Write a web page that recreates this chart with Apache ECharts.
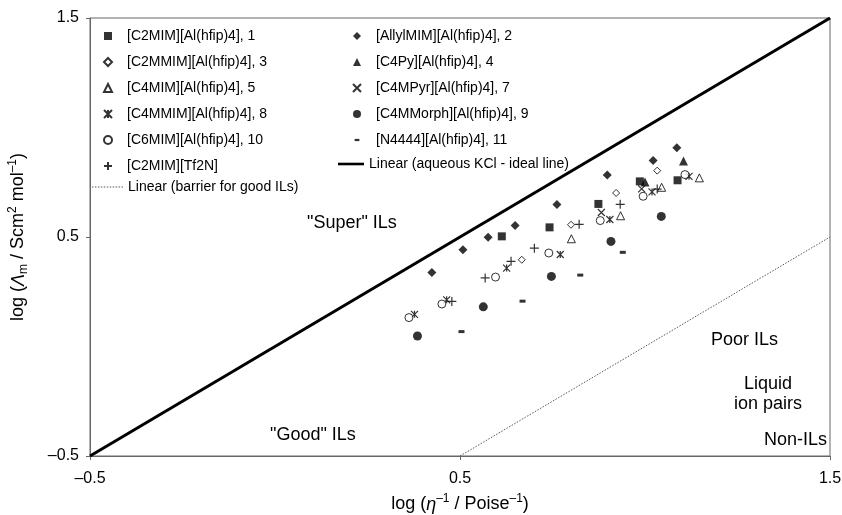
<!DOCTYPE html>
<html>
<head>
<meta charset="utf-8">
<script src="https://cdn.jsdelivr.net/npm/echarts@6/dist/echarts.min.js"></script>
<style>
html,body{margin:0;padding:0;background:#fff;}
#chart{width:842px;height:515px;}
</style>
</head>
<body>
<div id="chart"></div>
<script>
// ---- data (x = log(1/eta), y = log(Lambda_m)) ----
const axisTicks = [-0.5, 0.5, 1.5];
const c2mimAl   = [[0.613,0.503],[0.742,0.544],[0.874,0.651],[0.986,0.754],[1.088,0.759]];
const allylmim  = [[0.424,0.338],[0.508,0.442],[0.576,0.499],[0.649,0.552],[0.762,0.648],[0.898,0.783],[1.022,0.849],[1.086,0.907]];
const c2mmim    = [[0.667,0.396],[0.800,0.556],[0.922,0.701],[1.033,0.803]];
const c4py      = [[1.000,0.751],[1.104,0.847]];
const c4mim     = [[0.801,0.492],[0.934,0.597],[1.045,0.727],[1.147,0.770]];
const c4mpyr    = [[0.882,0.612],[0.991,0.720]];
const c4mmim    = [[0.377,0.147],[0.464,0.213],[0.626,0.358],[0.771,0.420],[0.905,0.580],[1.019,0.706],[1.119,0.777]];
const c4mmorph  = [[0.385,0.048],[0.563,0.181],[0.747,0.320],[0.908,0.480],[1.044,0.594]];
const c6mim     = [[0.362,0.132],[0.451,0.194],[0.596,0.317],[0.740,0.427],[0.879,0.575],[0.995,0.686],[1.108,0.785]];
const n4444     = [[0.504,0.068],[0.669,0.207],[0.825,0.326],[0.940,0.430]];
const c2mimTf2n = [[0.478,0.206],[0.568,0.313],[0.638,0.389],[0.701,0.449],[0.822,0.558],[0.933,0.649],[1.033,0.719]];
const idealLine   = [[-0.5,-0.5],[1.5,1.5]];
const barrierLine = [[0.5,-0.5],[1.5,0.5]];

const names = {
  s1:'[C2MIM][Al(hfip)4], 1', s2:'[AllylMIM][Al(hfip)4], 2', s3:'[C2MMIM][Al(hfip)4], 3',
  s4:'[C4Py][Al(hfip)4], 4', s5:'[C4MIM][Al(hfip)4], 5', s7:'[C4MPyr][Al(hfip)4], 7',
  s8:'[C4MMIM][Al(hfip)4], 8', s9:'[C4MMorph][Al(hfip)4], 9', s10:'[C6MIM][Al(hfip)4], 10',
  s11:'[N4444][Al(hfip)4], 11', tf:'[C2MIM][Tf2N]',
  ideal:'Linear (aqueous KCl - ideal line)', barrier:'Linear (barrier for good ILs)'
};

const FONT = 'Liberation Sans, Arial, sans-serif';
const filled = {color:'#000'};
const open = {color:'#fff', borderColor:'#000', borderWidth:1};
const stroke = {color:'rgba(0,0,0,0)', borderColor:'#000', borderWidth:1.2};
const PLUS = 'path://M5,0L5,10M0,5L10,5';
const CROSS = 'path://M0,0L10,10M10,0L0,10';
const STAR = 'path://M0,0L10,10M10,0L0,10M5,0L5,10';
const DASH = 'path://M0,0L6,0L6,2.6L0,2.6Z';
// legend icons (paths keep their aspect ratio)
const IC_RECT = 'path://M0,0L10,0L10,10L0,10Z';
const IC_DIAMOND = 'path://M5,0L10,5L5,10L0,5Z';
const IC_TRI = 'path://M5,0L10,10L0,10Z';
const IC_DASH = 'path://M0,0M2,3.6L8,3.6L8,6.4L2,6.4ZM10,10';
const IC_SOLID = 'path://M0,0L26,0L26,2.6L0,2.6Z';
let dots = 'path://';
for (let i = 0; i < 31; i += 3) dots += 'M' + i + ',0L' + (i + 1.5) + ',0L' + (i + 1.5) + ',1L' + i + ',1Z';
const IC_DOTTED = dots;

function sc(name, data, symbol, size, style){
  return {type:'scatter', name, data, symbol, symbolSize:size, itemStyle:style, z:3};
}

const series = [
  {type:'line', name:names.ideal, data:idealLine, symbol:'none', itemStyle:{color:'#000'}, lineStyle:{color:'#000', width:3}, z:2},
  {type:'line', name:names.barrier, data:barrierLine, symbol:'none', itemStyle:{color:'#555'}, lineStyle:{color:'#555', width:1, type:[1.5,1.5]}, z:2},
  sc(names.s1, c2mimAl, 'rect', 8, filled),
  sc(names.s2, allylmim, 'diamond', 9, filled),
  sc(names.s3, c2mmim, 'diamond', 7, open),
  sc(names.s4, c4py, 'triangle', 9, filled),
  sc(names.s5, c4mim, 'triangle', 8, open),
  sc(names.s7, c4mpyr, CROSS, 7, stroke),
  sc(names.s8, c4mmim, STAR, 7, stroke),
  sc(names.s9, c4mmorph, 'circle', 9, filled),
  sc(names.s10, c6mim, 'circle', 8, open),
  sc(names.s11, n4444, DASH, [6,3], filled),
  sc(names.tf, c2mimTf2n, PLUS, 9, stroke)
];

const legText = {fontFamily:FONT, fontSize:14, color:'#000'};
const legBase = {orient:'vertical', selectedMode:false, itemHeight:8, itemGap:12, textStyle:legText, padding:0};

const option = {
  animation:false,
  backgroundColor:'#fff',
  grid:{left:90, right:12, top:18, bottom:59, outerBoundsMode:'none', containLabel:false,
        show:true, borderColor:'#666', borderWidth:1, backgroundColor:'transparent'},
  legend:[
    Object.assign({}, legBase, {left:103, top:29, itemWidth:28,
      data:[{name:names.s1, icon:IC_RECT}, {name:names.s3, icon:IC_DIAMOND}, {name:names.s5, icon:IC_TRI},
            names.s8, names.s10, names.tf]}),
    Object.assign({}, legBase, {left:352, top:29, itemWidth:28,
      data:[{name:names.s2, icon:IC_DIAMOND}, {name:names.s4, icon:IC_TRI}, names.s7, names.s9,
            {name:names.s11, icon:IC_DASH}]}),
    Object.assign({}, legBase, {left:338, top:157, itemWidth:26, data:[{name:names.ideal, icon:IC_SOLID}]}),
    Object.assign({}, legBase, {left:92, top:180, itemWidth:31, data:[{name:names.barrier, icon:IC_DOTTED}]})
  ],
  xAxis:{
    type:'value', min:-0.5, max:1.5, interval:0.5,
    splitLine:{show:false},
    axisLine:{show:true, onZero:false, lineStyle:{color:'#666'}},
    axisTick:{show:true, length:4, customValues:axisTicks, lineStyle:{color:'#666'}},
    axisLabel:{customValues:axisTicks, margin:15, fontFamily:FONT, fontSize:16, color:'#000',
      formatter:v=>String(v).replace('-', '\u2013')},
    name:'log ({i|\u03B7}{sup|\u20131} / Poise{sup|\u20131})',
    nameLocation:'middle', nameGap:37,
    nameTextStyle:{fontFamily:FONT, fontSize:18, color:'#000',
      rich:{i:{fontFamily:FONT, fontSize:18, fontStyle:'italic', color:'#000', lineHeight:23},
            sup:{fontFamily:FONT, fontSize:12, color:'#000', verticalAlign:'top', lineHeight:12}}}
  },
  yAxis:{
    type:'value', min:-0.5, max:1.5, interval:0.5,
    splitLine:{show:false},
    axisLine:{show:true, onZero:false, lineStyle:{color:'#666'}},
    axisTick:{show:true, length:4, customValues:axisTicks, lineStyle:{color:'#666'}},
    axisLabel:{customValues:axisTicks, margin:11, fontFamily:FONT, fontSize:16, color:'#000',
      formatter:v=>String(v).replace('-', '\u2013')},
    name:'log ({i|\u039B}{sub|m} / Scm{sup|2} mol{sup|\u20131})',
    nameLocation:'middle', nameGap:60, nameRotate:90,
    nameTextStyle:{fontFamily:FONT, fontSize:18, color:'#000',
      rich:{i:{fontFamily:FONT, fontSize:18, fontStyle:'italic', color:'#000', lineHeight:23},
            sub:{fontFamily:FONT, fontSize:12, color:'#000', verticalAlign:'bottom', lineHeight:12},
            sup:{fontFamily:FONT, fontSize:12, color:'#000', verticalAlign:'top', lineHeight:12}}}
  },
  graphic:[
    {type:'text', left:307, top:214, style:{text:'"Super" ILs', font:'18px '+FONT, fill:'#000'}},
    {type:'text', left:270, top:426, style:{text:'"Good" ILs', font:'18px '+FONT, fill:'#000'}},
    {type:'text', left:711, top:331, style:{text:'Poor ILs', font:'18px '+FONT, fill:'#000'}},
    {type:'text', x:768, y:374, style:{text:'Liquid\nion pairs', font:'18px '+FONT, fill:'#000', align:'center', lineHeight:20}},
    {type:'text', right:15, top:431, style:{text:'Non-ILs', font:'18px '+FONT, fill:'#000'}}
  ],
  series
};

const chart = echarts.init(document.getElementById('chart'), null, {renderer:'canvas'});
chart.setOption(option);
</script>
</body>
</html>
